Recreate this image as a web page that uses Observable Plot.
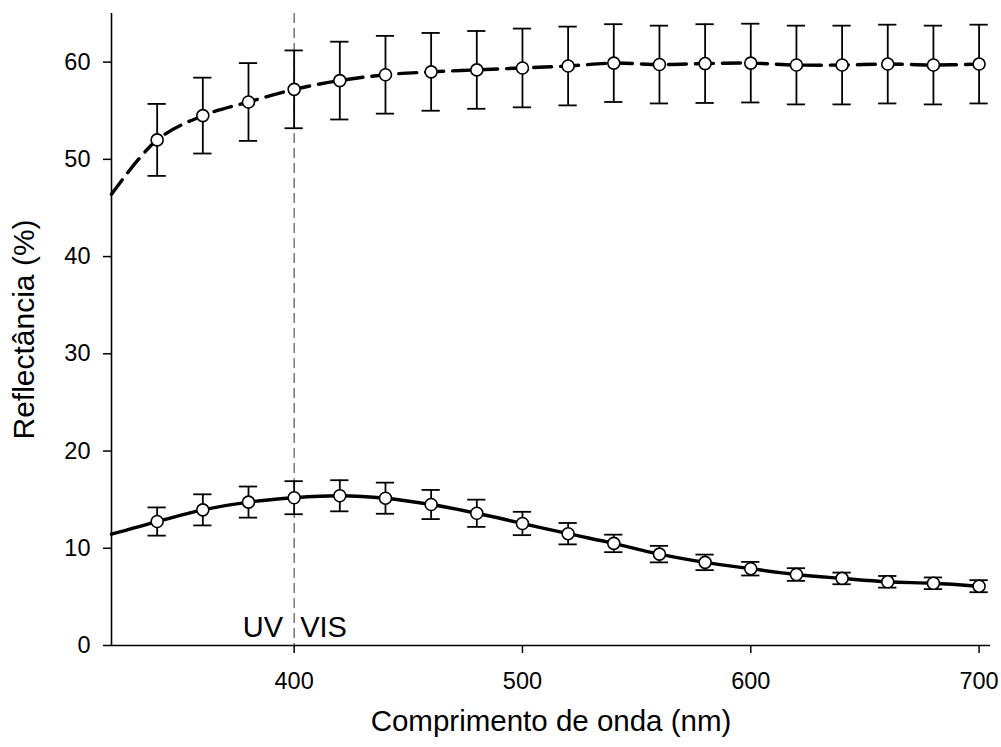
<!DOCTYPE html>
<html>
<head>
<meta charset="utf-8">
<script src="https://cdn.jsdelivr.net/npm/d3@7"></script>
<script src="https://cdn.jsdelivr.net/npm/@observablehq/plot@0.6"></script>
<style>
  html, body { margin: 0; padding: 0; background: #fff; }
  svg { display: block; }
  g[aria-label$="tick label"], g[aria-label$="tick label"] text { font-size: 23.5px !important; }
</style>
</head>
<body>
<div id="chart"></div>
<script>
// ---- data ----
const wavelength = [340, 360, 380, 400, 420, 440, 460, 480, 500, 520, 540, 560, 580, 600, 620, 640, 660, 680, 700];
const upperMean  = [52.0, 54.5, 55.9, 57.2, 58.1, 58.7, 59.0, 59.2, 59.4, 59.6, 59.9, 59.75, 59.85, 59.9, 59.7, 59.7, 59.8, 59.7, 59.8];
const upperErr   = [3.7, 3.9, 4.0, 4.0, 4.0, 4.0, 4.0, 4.0, 4.05, 4.05, 4.0, 4.0, 4.05, 4.05, 4.05, 4.05, 4.05, 4.05, 4.05];
const lowerMean  = [12.75, 13.95, 14.75, 15.2, 15.4, 15.15, 14.5, 13.6, 12.55, 11.5, 10.5, 9.4, 8.55, 7.9, 7.3, 6.9, 6.55, 6.4, 6.1];
const lowerErr   = [1.45, 1.6, 1.6, 1.7, 1.6, 1.6, 1.5, 1.4, 1.2, 1.1, 0.9, 0.85, 0.8, 0.7, 0.65, 0.6, 0.6, 0.6, 0.62];
// curves start at the left edge of the axis
const curveStartX = 320;
const upperStart = 46.4;
const lowerStart = 11.45;

const xTicks = [400, 500, 600, 700];
const yTicks = [0, 10, 20, 30, 40, 50, 60];
const boundary = 400;
const regionLabels = ["UV", "VIS"];
const xTitle = "Comprimento de onda (nm)";
const yTitle = "Reflectância (%)";

// ---- tables ----
const upperPts = wavelength.map((w, i) => ({x: w, y: upperMean[i], e: upperErr[i]}));
const lowerPts = wavelength.map((w, i) => ({x: w, y: lowerMean[i], e: lowerErr[i]}));
const upperLine = [{x: curveStartX, y: upperStart}, ...upperPts];
const lowerLine = [{x: curveStartX, y: lowerStart}, ...lowerPts];
const allPts = [...upperPts, ...lowerPts];
const cap = 4; // half-width of error-bar caps, in nm

const font = "'Liberation Sans', Arial, Helvetica, sans-serif";

const chart = Plot.plot({
  width: 1001,
  height: 747,
  marginLeft: 111,
  marginRight: 11,
  marginTop: 13,
  marginBottom: 102,
  style: {fontFamily: font, fontSize: "23px", color: "#000", background: "#fff"},
  x: {domain: [320, 705], axis: null},
  y: {domain: [0, 65], axis: null},
  marks: [
    Plot.axisX({ticks: xTicks, tickSize: 8, tickPadding: 19, label: null, strokeWidth: 1.5, fontSize: 23.5, fill: "#000"}),
    Plot.axisY({ticks: yTicks, tickSize: 8, tickPadding: 13, label: null, strokeWidth: 1.5, fontSize: 23.5, fill: "#000"}),
    Plot.ruleX([boundary], {stroke: "#333", strokeWidth: 1, strokeDasharray: "10,5"}),
    Plot.ruleX([320], {stroke: "#000", strokeWidth: 1.6}),
    Plot.ruleY([0], {stroke: "#000", strokeWidth: 1.6}),
    // error bars
    Plot.ruleX(allPts, {x: "x", y1: d => d.y - d.e, y2: d => d.y + d.e, stroke: "#000", strokeWidth: 1.8}),
    Plot.ruleY(allPts, {y: d => d.y + d.e, x1: d => d.x - cap, x2: d => d.x + cap, stroke: "#000", strokeWidth: 1.8}),
    Plot.ruleY(allPts, {y: d => d.y - d.e, x1: d => d.x - cap, x2: d => d.x + cap, stroke: "#000", strokeWidth: 1.8}),
    // curves
    Plot.line(upperLine, {x: "x", y: "y", curve: "catmull-rom", stroke: "#000", strokeWidth: 3.4, strokeDasharray: "18,9"}),
    Plot.line(lowerLine, {x: "x", y: "y", curve: "catmull-rom", stroke: "#000", strokeWidth: 3.4}),
    Plot.dot(allPts, {x: "x", y: "y", r: 6, fill: "#fff", stroke: "#000", strokeWidth: 1.6}),
    // UV / VIS labels
    Plot.text([regionLabels[0]], {x: boundary, y: 0, text: d => d, textAnchor: "end", lineAnchor: "bottom", dx: -11, dy: -9, fontSize: 29, fill: "#000"}),
    Plot.text([regionLabels[1]], {x: boundary, y: 0, text: d => d, textAnchor: "start", lineAnchor: "bottom", dx: 6, dy: -9, fontSize: 29, fill: "#000"}),
    // axis titles
    Plot.text([xTitle], {frameAnchor: "bottom", text: d => d, textAnchor: "middle", lineAnchor: "bottom", dy: 85, fontSize: 29.5, fill: "#000"}),
    Plot.text([yTitle], {frameAnchor: "left", text: d => d, textAnchor: "middle", rotate: -90, lineAnchor: "bottom", dx: -78, fontSize: 30, fill: "#000"})
  ]
});
document.getElementById("chart").appendChild(chart);
</script>
</body>
</html>
